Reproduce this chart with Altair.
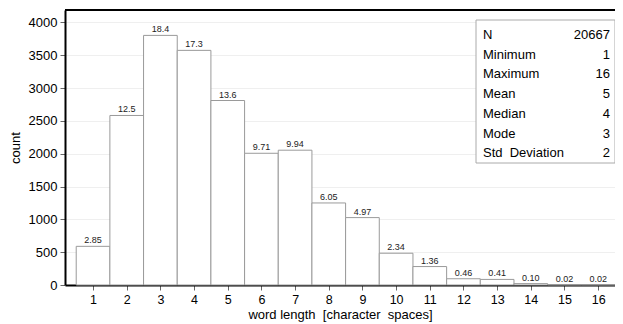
import altair as alt
import pandas as pd

# word length categories and percent shares (labels on bars)
lengths = list(range(1, 17))
pct_labels = ["2.85", "12.5", "18.4", "17.3", "13.6", "9.71", "9.94", "6.05", "4.97", "2.34", "1.36", "0.46", "0.41", "0.10", "0.02", "0.02"]
counts = [589, 2583, 3803, 3575, 2811, 2007, 2054, 1250, 1027, 484, 281, 95, 85, 21, 4, 4]

stat_names = ["N", "Minimum", "Maximum", "Mean", "Median", "Mode", "Std\u00a0\u00a0Deviation"]
stat_values = ["20667", "1", "16", "5", "4", "3", "2"]

FONT = "Liberation Sans"

df = pd.DataFrame({
    "k": lengths,
    "lo": [v - 0.5 for v in lengths],
    "hi": [v + 0.5 for v in lengths],
    "count": counts,
    "pct": pct_labels,
})
stats = pd.DataFrame({"name": stat_names, "value": stat_values, "row": list(range(len(stat_names)))})

xscale = alt.Scale(domain=[0.167, 16.5], nice=False, zero=False)
yscale = alt.Scale(domain=[0, 4190], nice=False)

xaxis = alt.Axis(values=lengths, format="d", grid=False, domainColor="black", domainWidth=2,
                 tickColor="#666", tickSize=5, labelFontSize=12.5, labelColor="black",
                 titleFontSize=13, titleFontWeight="normal", titleColor="black",
                 labelFont=FONT, titleFont=FONT, titlePadding=3, labelPadding=3,
                 labelOverlap=False)
yaxis = alt.Axis(values=list(range(0, 4001, 500)), format="d", grid=True, gridColor="#efefef",
                 domainColor="black", domainWidth=2, tickColor="#666", tickSize=5,
                 labelFontSize=13, labelColor="black", titleFontSize=13,
                 titleFontWeight="normal", titleColor="black", labelFont=FONT,
                 titleFont=FONT, titlePadding=6, labelPadding=3, labelOverlap=False)
XTITLE = "word length\u00a0\u00a0[character\u00a0\u00a0spaces]"

bars = alt.Chart(df).mark_rect(fill="white", stroke="#9a9a9a", strokeWidth=1).encode(
    x=alt.X("lo:Q", scale=xscale, title=XTITLE, axis=xaxis),
    x2="hi:Q",
    y=alt.Y("count:Q", scale=yscale, title="count", axis=yaxis),
    y2=alt.datum(0),
)

labels = alt.Chart(df).mark_text(fontSize=9, dy=-6, color="#222", font=FONT).encode(
    x=alt.X("k:Q", scale=xscale, title=XTITLE, axis=xaxis),
    y=alt.Y("count:Q", scale=yscale, title="count", axis=yaxis),
    text="pct:N",
)

top_line = alt.Chart(df).mark_rule(color="black", strokeWidth=2).encode(y=alt.value(0))

box = alt.Chart(pd.DataFrame({"a": [0]})).mark_rect(fill="white", stroke="#aaaaaa", strokeWidth=1).encode(
    x=alt.value(411), x2=alt.value(550), y=alt.value(10), y2=alt.value(153)
)

stat_base = alt.Chart(stats).transform_calculate(ypix="25 + datum.row * 19.7")
stat_names_t = stat_base.mark_text(align="left", baseline="middle", fontSize=13, font=FONT, color="black").encode(
    x=alt.value(418), y=alt.Y("ypix:Q", scale=None), text="name:N"
)
stat_vals_t = stat_base.mark_text(align="right", baseline="middle", fontSize=13, font=FONT, color="black").encode(
    x=alt.value(545), y=alt.Y("ypix:Q", scale=None), text="value:N"
)

chart = alt.layer(bars, labels, top_line, box, stat_names_t, stat_vals_t).properties(
    width=550, height=275,
    autosize=alt.AutoSizeParams(type="none"),
    padding={"left": 57, "top": 2, "right": 0, "bottom": 39},
).configure_view(stroke=None).configure(background="white")

chart.save("out.html", embed_options={"renderer": "svg", "actions": False})
